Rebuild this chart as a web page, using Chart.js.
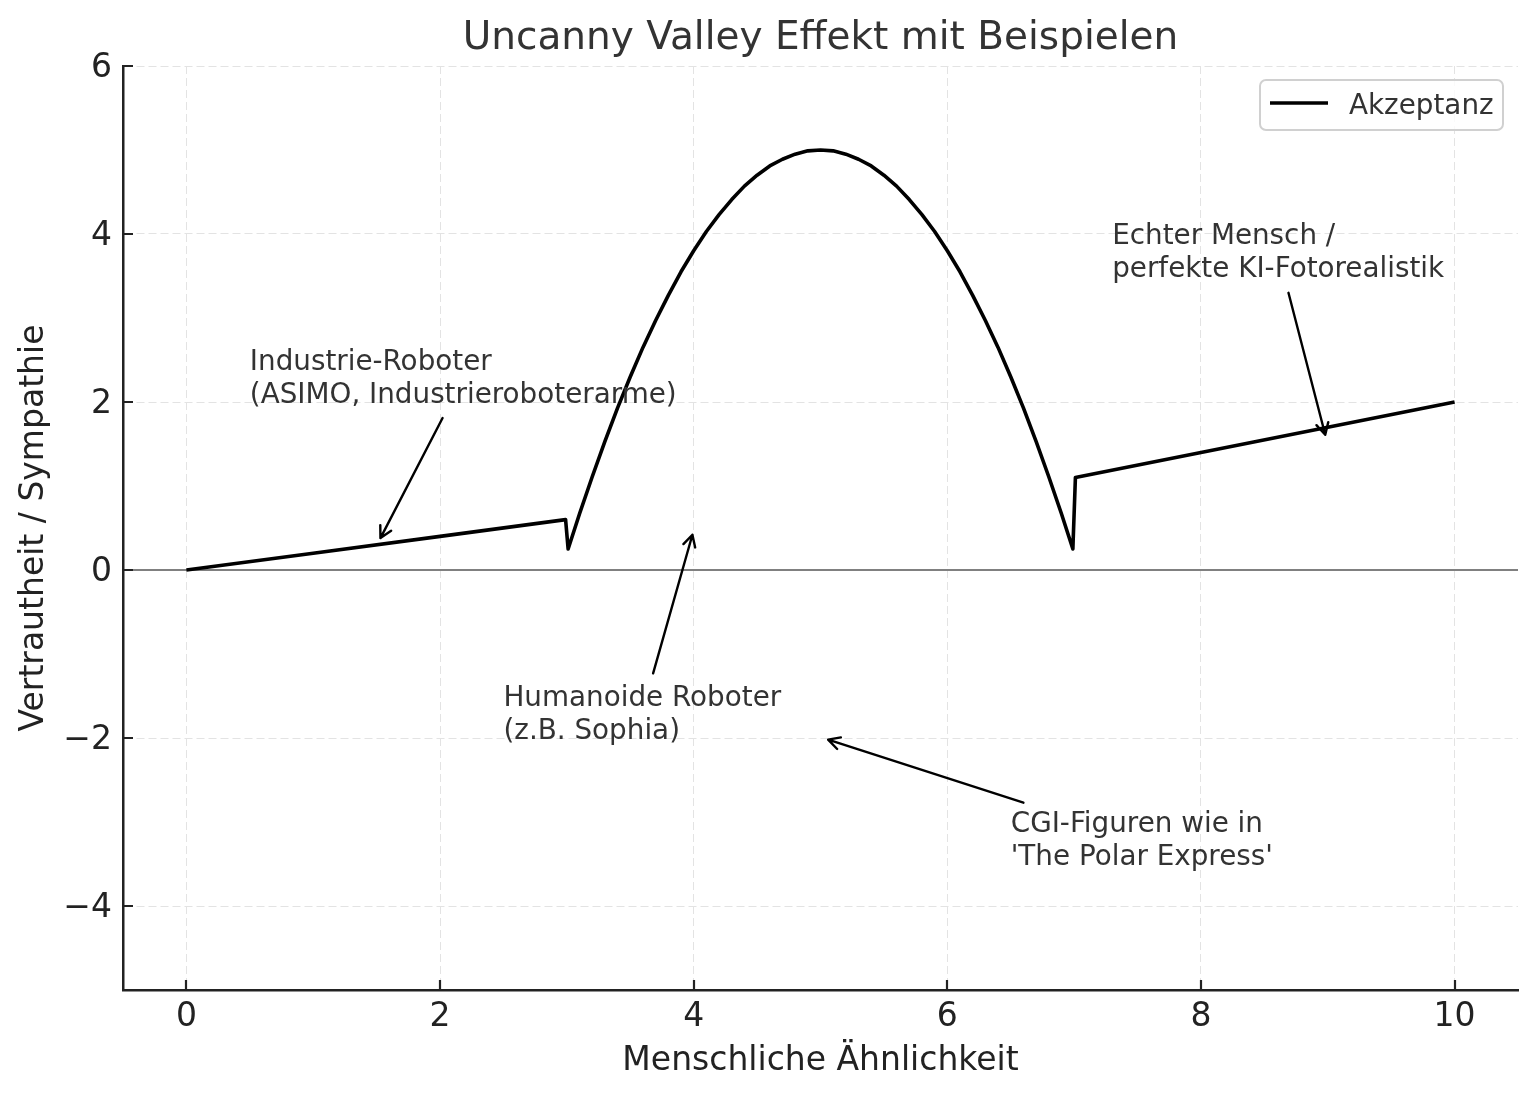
<!DOCTYPE html>
<html>
<head>
<meta charset="utf-8">
<title>Uncanny Valley Effekt</title>
<script src="https://cdn.jsdelivr.net/npm/chart.js@4.4.1/dist/chart.umd.min.js"></script>
<style>
  html, body { margin: 0; padding: 0; background: #fff; }
  #wrap { width: 1538px; height: 1097px; }
</style>
</head>
<body>
<div id="wrap"><canvas id="uncanny" width="1538" height="1097"></canvas></div>
<script>
// values
const curveX = [0, 1, 2, 2.99,
    3.01, 3.1, 3.2, 3.3, 3.4, 3.5, 3.6, 3.7, 3.8, 3.9, 4.0,
    4.1, 4.2, 4.3, 4.4, 4.5, 4.6, 4.7, 4.8, 4.9, 5.0,
    5.1, 5.2, 5.3, 5.4, 5.5, 5.6, 5.7, 5.8, 5.9, 6.0,
    6.1, 6.2, 6.3, 6.4, 6.5, 6.6, 6.7, 6.8, 6.9, 6.99,
    7.01, 8, 9, 10]
const curveY = [0, 0.2, 0.4, 0.6,
    0.25, 0.67, 1.11, 1.53, 1.93, 2.30, 2.65, 2.97, 3.27, 3.55, 3.80,
    4.03, 4.23, 4.41, 4.57, 4.70, 4.81, 4.89, 4.95, 4.99, 5.00,
    4.99, 4.95, 4.89, 4.81, 4.70, 4.57, 4.41, 4.23, 4.03, 3.80,
    3.55, 3.27, 2.97, 2.65, 2.30, 1.93, 1.53, 1.11, 0.67, 0.25,
    1.10, 1.40, 1.70, 2.00]
const xTicks = [0, 2, 4, 6, 8, 10]
const yTicks = [-4, -2, 0, 2, 4, 6]
const seriesName = "Akzeptanz"

// annotation texts, text anchor (last baseline) and arrow ends in data units
const notes = [
    { lines : ["Industrie-Roboter", "(ASIMO, Industrieroboterarme)"], at : [0.5, 2.0], from : [2.02, 1.81], to : [1.53, 0.38] },
    { lines : ["Humanoide Roboter", "(z.B. Sophia)"], at : [2.5, -2.0], from : [3.68, -1.23], to : [3.99, 0.42] },
    { lines : ["CGI-Figuren wie in", "'The Polar Express'"], at : [6.5, -3.5], from : [6.60, -2.77], to : [5.06, -2.02] },
    { lines : ["Echter Mensch /", "perfekte KI-Fotorealistik"], at : [7.3, 3.5], from : [8.69, 3.30], to : [8.98, 1.61] },
]

const FONT = "'DejaVu Sans', sans-serif"
const fmtTick = v => v < 0 ? "\u2212" + Math.abs(v) : String(v)

const extras = {
    id : "extras",
    beforeDatasetsDraw(chart) {
        const { ctx, chartArea : a, scales : { y } } = chart
        const y0 = y.getPixelForValue(0)
        ctx.save()
        ctx.strokeStyle = "#808080"
        ctx.lineWidth = 2
        ctx.beginPath()
        ctx.moveTo(a.left, y0)
        ctx.lineTo(a.right, y0)
        ctx.stroke()
        ctx.restore()
    },
    afterDatasetsDraw(chart) {
        const { ctx, scales : { x, y } } = chart
        ctx.save()
        notes.forEach(n => {
            // arrow '->'
            const x1 = x.getPixelForValue(n.from[0]), y1 = y.getPixelForValue(n.from[1])
            const x2 = x.getPixelForValue(n.to[0]), y2 = y.getPixelForValue(n.to[1])
            ctx.strokeStyle = "#000"
            ctx.lineWidth = 2.4
            ctx.lineCap = "round"
            ctx.lineJoin = "round"
            ctx.beginPath()
            ctx.moveTo(x1, y1)
            ctx.lineTo(x2, y2)
            const ang = Math.atan2(y1 - y2, x1 - x2)
            const len = 13, spread = 28 * Math.PI / 180
            ctx.moveTo(x2 + len * Math.cos(ang - spread), y2 + len * Math.sin(ang - spread))
            ctx.lineTo(x2, y2)
            ctx.lineTo(x2 + len * Math.cos(ang + spread), y2 + len * Math.sin(ang + spread))
            ctx.stroke()

            // text
            ctx.fillStyle = "#333"
            ctx.font = "27.8px " + FONT
            ctx.textAlign = "left"
            ctx.textBaseline = "alphabetic"
            const tx = x.getPixelForValue(n.at[0])
            const ty = y.getPixelForValue(n.at[1]) + 1
            const last = n.lines.length - 1
            n.lines.forEach((t, i) => ctx.fillText(t, tx, ty - (last - i) * 33))
        })
        ctx.restore()
    },
    afterDraw(chart) {
        const { ctx, chartArea : a, scales : { x, y } } = chart
        ctx.save()

        // inward tick marks
        ctx.strokeStyle = "#222"
        ctx.lineWidth = 2.2
        ctx.beginPath()
        xTicks.forEach(v => {
            const px = Math.round(x.getPixelForValue(v))
            ctx.moveTo(px, a.bottom)
            ctx.lineTo(px, a.bottom - 10)
        })
        yTicks.forEach(v => {
            const py = Math.round(y.getPixelForValue(v))
            ctx.moveTo(a.left, py)
            ctx.lineTo(a.left + 10, py)
        })
        ctx.stroke()

        // title
        ctx.fillStyle = "#333"
        ctx.font = "39px " + FONT
        ctx.textAlign = "center"
        ctx.textBaseline = "middle"
        ctx.fillText("Uncanny Valley Effekt mit Beispielen", (a.left + a.right) / 2, 39)

        // legend box
        const bx = a.right - 258, by = a.top + 14, bw = 243, bh = 50, r = 6
        ctx.beginPath()
        ctx.moveTo(bx + r, by)
        ctx.arcTo(bx + bw, by, bx + bw, by + bh, r)
        ctx.arcTo(bx + bw, by + bh, bx, by + bh, r)
        ctx.arcTo(bx, by + bh, bx, by, r)
        ctx.arcTo(bx, by, bx + bw, by, r)
        ctx.closePath()
        ctx.fillStyle = "rgba(255,255,255,0.8)"
        ctx.fill()
        ctx.strokeStyle = "#d0d0d0"
        ctx.lineWidth = 2
        ctx.stroke()

        ctx.strokeStyle = "#000"
        ctx.lineWidth = 3.5
        ctx.beginPath()
        ctx.moveTo(bx + 10, by + 23)
        ctx.lineTo(bx + 68, by + 23)
        ctx.stroke()

        ctx.fillStyle = "#333"
        ctx.font = "27.8px " + FONT
        ctx.textAlign = "left"
        ctx.textBaseline = "middle"
        ctx.fillText(seriesName, bx + 89, by + 27)

        ctx.restore()
    },
}

const uncannyChart = new Chart(document.getElementById("uncanny").getContext("2d"), {
    type : "line",
    data : {
        datasets : [{
            label : seriesName,
            data : curveX.map((v, i) => ({ x : v, y : curveY[i] })),
            borderColor : "#000",
            borderWidth : 3.6,
            borderJoinStyle : "round",
            pointRadius : 0,
            fill : false,
            tension : 0,
        }],
    }, options : {
        responsive : false,
        animation : false,
        devicePixelRatio : 1,
        layout : {
            padding : { top : 66, right : 20, left : 0, bottom : 0 },
        },
        scales : {
            x : {
                type : "linear",
                min : -0.5,
                max : 10.5,
                afterBuildTicks : s => { s.ticks = xTicks.map(v => ({ value : v })) },
                afterFit : s => { s.height = 107 },
                grid : { color : "#e3e3e3", lineWidth : 1, drawTicks : false },
                border : { display : true, color : "#222", width : 2.5, dash : [8, 4] },
                ticks : {
                    padding : 8,
                    color : "#222",
                    font : { family : FONT, size : 33 },
                    callback : v => fmtTick(v),
                    maxRotation : 0,
                },
                title : {
                    display : true,
                    text : "Menschliche Ähnlichkeit",
                    color : "#222",
                    font : { family : FONT, size : 33 },
                    padding : { top : 0, bottom : 16 },
                },
            },
            y : {
                type : "linear",
                min : -5,
                max : 6,
                afterBuildTicks : s => { s.ticks = yTicks.map(v => ({ value : v })) },
                afterFit : s => { s.width = 123 },
                grid : { color : "#e3e3e3", lineWidth : 1, drawTicks : false },
                border : { display : true, color : "#222", width : 2.5, dash : [8, 4] },
                ticks : {
                    padding : 11,
                    labelOffset : 2,
                    color : "#222",
                    font : { family : FONT, size : 33 },
                    callback : v => fmtTick(v),
                },
                title : {
                    display : true,
                    text : "Vertrautheit / Sympathie",
                    color : "#222",
                    font : { family : FONT, size : 33 },
                    padding : { top : 15, bottom : 0 },
                },
            },
        }, plugins : {
            legend : { display : false },
            tooltip : { enabled : false },
        },
    },
    plugins : [extras],
})
</script>
</body>
</html>
